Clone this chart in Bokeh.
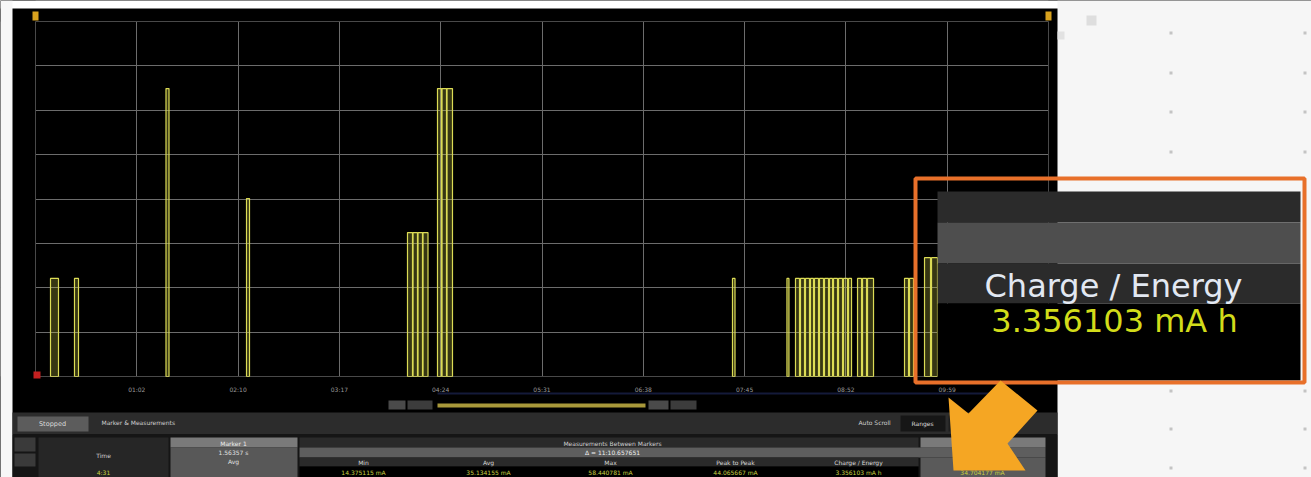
from bokeh.plotting import figure
from bokeh.models import Range1d, FixedTicker, BoxAnnotation, Label, PolyAnnotation, ColumnDataSource
from bokeh.embed import file_html
from bokeh.resources import INLINE

# ---------------- data ----------------
tick_labels = ["01:02", "02:10", "03:17", "04:24", "05:31", "06:38", "07:45", "08:52", "09:59"]
division_s = 67          # seconds per horizontal division
n_xdiv = 10
ma_per_div = 9           # mA per vertical division
n_ydiv = 8

pulse_start_s = [9.92, 25.79, 86.31, 139.56,
                 246.04, 249.68, 252.98, 256.29,
                 265.88, 268.86, 272.17,
                 460.99, 497.01,
                 502.66, 505.97, 509.28, 512.59, 515.23, 518.54, 521.85, 525.17, 527.81, 531.12, 534.43, 537.74,
                 543.69, 547.00, 550.30,
                 574.77, 578.08,
                 588.00, 592.63]
pulse_end_s = [15.21, 28.44, 88.30, 141.54,
               249.35, 252.65, 255.96, 259.60,
               268.53, 271.84, 275.80,
               462.65, 498.33,
               505.31, 508.62, 511.92, 514.57, 517.88, 521.19, 524.50, 527.15, 530.46, 533.77, 537.08, 539.72,
               546.34, 549.64, 554.27,
               577.42, 580.72,
               591.97, 596.60]
pulse_peak_ma = [19.9, 19.9, 58.4, 36.1,
                 29.2, 29.2, 29.2, 29.2,
                 58.4, 58.4, 58.4,
                 19.9, 19.9,
                 19.9, 19.9, 19.9, 19.9, 19.9, 19.9, 19.9, 19.9, 19.9, 19.9, 19.9, 19.9,
                 19.9, 19.9, 19.9,
                 19.9, 19.9,
                 24.1, 24.1]

table_headers = ["Min", "Avg", "Max", "Peak to Peak", "Charge / Energy"]
table_values = ["14.375115 mA", "35.134155 mA", "58.440781 mA", "44.065667 mA", "3.356103 mA h"]
marker_time = "1.56357 s"
marker_delta = "\u0394 = 11:10.657651"
cursor_time = "4:31"
last_col_value = "34.704177 mA"
inset_title = "Charge / Energy"
inset_value = "3.356103 mA h"

# ---------------- layout ----------------
W, H = 1311, 477
# plot rectangle inside the canvas (pixels from top-left of canvas)
PL, PR, PT, PB = 35, 1048, 21, 376
x_span = division_s * n_xdiv
y_span = ma_per_div * n_ydiv
px_per_s = (PR - PL) / x_span
px_per_ma = (PB - PT) / y_span
x_range = Range1d(-PL / px_per_s, x_span + (W - PR) / px_per_s)
y_range = Range1d(-(H - PB) / px_per_ma, y_span + PT / px_per_ma)

p = figure(width=W, height=H, output_backend="svg", toolbar_location=None,
           x_range=x_range, y_range=y_range,
           min_border_left=0, min_border_right=0, min_border_top=0, min_border_bottom=0,
           background_fill_color="black", border_fill_color="black",
           outline_line_color=None)
p.yaxis.visible = False

xt = [division_s * k for k in range(n_xdiv + 1)]
overrides = {xt[0]: "", xt[-1]: ""}
for k, lab in enumerate(tick_labels):
    overrides[xt[k + 1]] = lab
xa = p.xaxis[0]
xa.fixed_location = 0
xa.ticker = FixedTicker(ticks=xt)
xa.major_label_overrides = overrides
xa.axis_line_color = None
xa.major_tick_line_color = None
xa.minor_tick_line_color = None
xa.major_label_text_color = "#9a9a9a"
xa.major_label_text_font_size = "6px"
xa.major_label_text_font = "DejaVu Sans"
xa.major_label_standoff = 3

GRID = "#6c6c6c"
p.xgrid.ticker = FixedTicker(ticks=xt)
p.xgrid.grid_line_color = GRID
p.ygrid.ticker = FixedTicker(ticks=[ma_per_div * k for k in range(n_ydiv + 1)])
p.ygrid.grid_line_color = GRID

src = ColumnDataSource(dict(left=pulse_start_s, right=pulse_end_s, top=pulse_peak_ma,
                            bottom=[0] * len(pulse_peak_ma)))
p.quad(left="left", right="right", top="top", bottom="bottom", source=src,
       fill_color="#d6d64a", fill_alpha=0.25, line_color="#dcdc55", line_width=1.2)


# ---------------- decorations (screen units; frame == canvas) ----------------
def sx(rx):
    return rx


def sy(ry):
    return H - ry


def box(x0, y0, x1, y1, fill, line=None, lw=1, level="annotation"):
    p.add_layout(BoxAnnotation(left=sx(x0), right=sx(x1), top=sy(y0), bottom=sy(y1),
                               left_units="screen", right_units="screen",
                               top_units="screen", bottom_units="screen",
                               fill_color=fill, fill_alpha=1.0 if fill else 0.0,
                               line_color=line, line_width=lw, line_alpha=1.0 if line else 0.0,
                               level=level))


def text(x, y, s, size, color, align="center"):
    p.add_layout(Label(x=sx(x), y=sy(y), x_units="screen", y_units="screen", text=s,
                       text_font_size=f"{size}px", text_color=color, text_align=align,
                       text_baseline="middle", text_font="DejaVu Sans"))


# masks that hide the grid outside the plot rectangle (drawn under glyphs and axis)
box(0, 0, W, PT, "#000000", level="underlay")
box(0, 0, PL, H, "#000000", level="underlay")
box(0, PB, W, H, "#000000", level="underlay")
box(PR, 0, W, H, "#000000", level="underlay")
# white slide background around the screenshot
box(0, 0, W, 8, "#ffffff", level="underlay")
box(0, 0, 12, H, "#f7f7f7", level="underlay")
box(1057, 0, W, H, "#f6f6f6", level="underlay")
# faint dot pattern of the slide background
for dx in (1169, 1303):
    for dy in (31, 71, 110, 150, 389, 427, 466):
        box(dx, dy, dx + 3, dy + 3, "#c4c4c4", level="underlay")
box(1086, 15, 1096, 25, "#dedede", level="underlay")
box(1057, 31, 1064, 39, "#e2e2e2", level="underlay")

# plot rectangle border
p.add_layout(BoxAnnotation(left=0, right=x_span, bottom=0, top=y_span,
                           fill_alpha=0.0, line_color="#767676", line_width=1))

# top corner markers
box(32, 11, 38, 20, "#d9a21e")
box(1045, 11, 1051, 20, "#d9a21e")
# bottom-left trigger marker
box(33, 371, 40, 378, "#c42020")

# scroll row
box(437, 392, 1000, 394, "#141a3a")
box(388, 400, 405, 409, "#4a4a4a")
box(407, 400, 432, 409, "#3c3c3c")
box(437, 403, 645, 407, "#a8983a")
box(648, 400, 668, 409, "#4a4a4a")
box(670, 400, 696, 409, "#3c3c3c")

# toolbar row
box(12, 412, 1057, 434, "#2c2c2c")
box(17, 416, 88, 431, "#5c5c5c")
text(52, 423.5, "Stopped", 6.5, "#dddddd")
text(101, 422, "Marker & Measurements", 6, "#cfcfcf", align="left")
text(858, 422, "Auto Scroll", 6, "#cfcfcf", align="left")
box(900, 415, 945, 431, "#161616")
text(922, 423, "Ranges", 6, "#dddddd")
box(948, 415, 1000, 431, "#1e1e1e")

# table
box(12, 434, 1057, 477, "#151515")
box(14, 437, 35, 451, "#3a3a3a")
box(14, 453, 35, 466, "#3a3a3a")
box(38, 437, 168, 477, "#262626")
text(103, 455, "Time", 6, "#d0d0d0")
text(103, 472, cursor_time, 6, "#c8d040")
box(170, 437, 297, 447, "#7a7a7a")
box(170, 447, 297, 477, "#585858")
text(233, 442.5, "Marker 1", 6, "#eeeeee")
text(233, 451.5, marker_time, 6, "#e0e0e0")
text(233, 461, "Avg", 6, "#e0e0e0")
box(299, 437, 918, 447, "#2a2a2a")
text(612, 443, "Measurements Between Markers", 6, "#d0d0d0")
box(299, 447, 1045, 457, "#5e5e5e")
text(612, 452, marker_delta, 6, "#f0f0f0")
box(299, 457, 918, 466, "#2a2a2a")
box(299, 466, 918, 477, "#000000")
col_centers = [363, 488, 610, 735, 858]
for cx, hdr, val in zip(col_centers, table_headers, table_values):
    text(cx, 461.5, hdr, 6, "#d8d8d8")
    text(cx, 471.5, val, 6, "#c8d040")
box(920, 437, 1045, 447, "#7a7a7a")
box(920, 457, 1045, 477, "#5a5a5a")
text(982, 461.5, "Avg", 6, "#e0e0e0")
text(982, 471.5, last_col_value, 6, "#c8d040")

# zoomed inset
box(937, 191, 1300, 222, "#2b2b2b")
box(937, 222, 1300, 263, "#4e4e4e")
box(937, 263, 1300, 303, "#2b2b2b")
box(937, 303, 1300, 380, "#000000")
text(1113, 285, inset_title, 32, "#e2e8f2")
text(1114, 320, inset_value, 32, "#d2dc1a")
box(915, 178, 1304, 382, None, line="#e8702a", lw=4)

# orange arrow
arrow_x = [1000, 1037, 1007, 1025, 953, 948, 968]
arrow_y = [380, 410, 443, 470, 470, 397, 413]
p.add_layout(PolyAnnotation(xs=[sx(v) for v in arrow_x], ys=[sy(v) for v in arrow_y],
                            xs_units="screen", ys_units="screen",
                            fill_color="#f5a623", fill_alpha=1.0, line_color=None))

open("out.html", "w").write(file_html(p, INLINE))
